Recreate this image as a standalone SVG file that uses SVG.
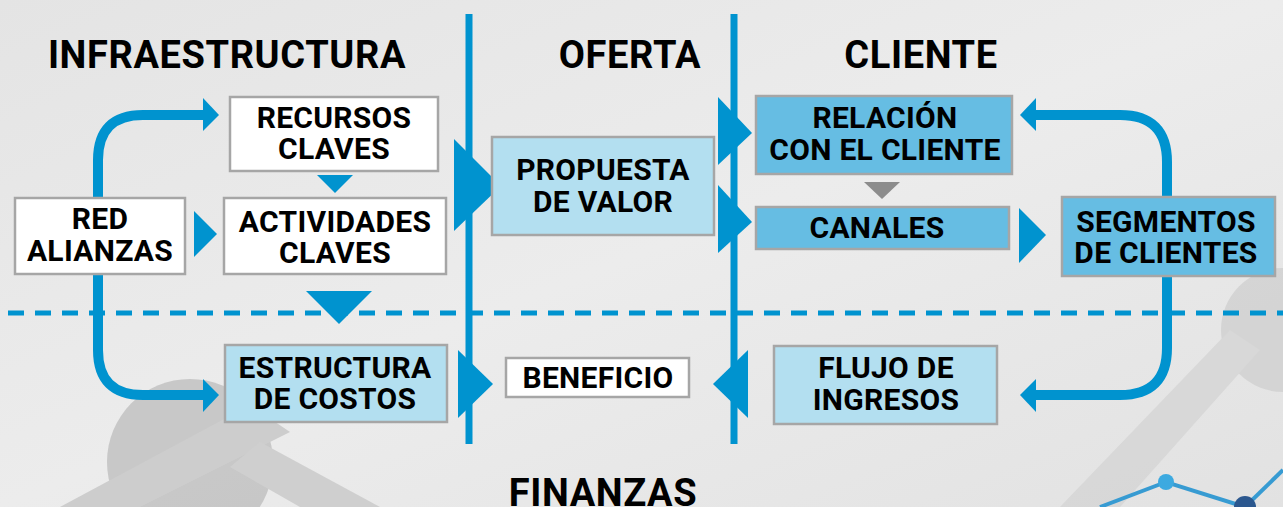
<svg xmlns="http://www.w3.org/2000/svg" width="1283" height="507" viewBox="0 0 1283 507">
<defs>
<linearGradient id="bg" x1="0" y1="0" x2="1" y2="1">
<stop offset="0" stop-color="#e4e4e4"/>
<stop offset="0.5" stop-color="#ececec"/>
<stop offset="1" stop-color="#e2e2e2"/>
</linearGradient>
<style>
.t{font-family:Roboto,"Liberation Sans",sans-serif;font-weight:bold;fill:#000;text-anchor:middle}
.h{font-size:38px;letter-spacing:0.6px}
.b{font-size:30px;letter-spacing:0.3px}
.box{stroke:#a6a6a6;stroke-width:2.5}
.w{fill:#ffffff}
.lb{fill:#b3dff0}
.mb{fill:#66bde3}
.ar{fill:#0093cf}
.ln{fill:none;stroke:#0093cf}
</style>
</defs>
<rect x="0" y="0" width="1283" height="507" fill="url(#bg)"/>
<g id="decor" opacity="0.85">
<circle cx="190" cy="462" r="83" fill="#c2c2c2"/>
<path d="M60 507 L250 405 L290 432 L140 507 Z" fill="#c8c8c8"/>
<path d="M260 442 L380 507 L300 507 L230 467 Z" fill="#cbcbcb"/>
<circle cx="1283" cy="330" r="62" fill="#d2d2d2"/>
<path d="M1230 330 L1260 350 L1120 507 L1060 507 Z" fill="#d6d6d6"/>
<path d="M1100 507 L1166 482 L1245 507" fill="none" stroke="#1a8fd0" stroke-width="4"/>
<path d="M1245 507 L1283 470" fill="none" stroke="#1a8fd0" stroke-width="4"/>
<circle cx="1166" cy="482" r="8" fill="#1fa0e0"/>
<circle cx="1245" cy="507" r="11" fill="#0c3f80"/>
</g>
<g id="connectors">
<line x1="8" y1="313" x2="1283" y2="313" stroke="#0093cf" stroke-width="5" stroke-dasharray="16 11"/>
<line x1="469" y1="14" x2="469" y2="444" stroke="#0093cf" stroke-width="7"/>
<line x1="734" y1="14" x2="734" y2="444" stroke="#0093cf" stroke-width="7"/>
<path class="ln" stroke-width="10" d="M98 200 L98 160 Q98 115 143 115 L205 115"/>
<polygon class="ar" points="203,98 219,115 203,131"/>
<path class="ln" stroke-width="10" d="M98 270 L98 350 Q98 395 143 395 L205 395"/>
<polygon class="ar" points="203,379 219,395 203,412"/>
<path class="ln" stroke-width="10" d="M1167 200 L1167 162 Q1167 115 1120 115 L1033 115"/>
<polygon class="ar" points="1036,98 1020,115 1036,131"/>
<path class="ln" stroke-width="10" d="M1167 270 L1167 348 Q1167 395 1120 395 L1033 395"/>
<polygon class="ar" points="1036,379 1020,395 1036,412"/>
<polygon class="ar" points="317,175 353,175 335,193"/>
<polygon class="ar" points="306,291 372,291 339,324"/>
<polygon class="ar" points="194,211 217,234 194,257"/>
<polygon class="ar" points="454,139 501,186 454,231"/>
<polygon class="ar" points="718,97 752,133 718,165"/>
<polygon class="ar" points="718,185 752,222 718,253"/>
<polygon class="ar" points="458,350 493,384 458,418"/>
<polygon class="ar" points="748,350 713,384 748,418"/>
<polygon points="864,182 900,182 882,199" fill="#8c8c8c"/>
<polygon class="ar" points="1019,208 1046,235 1019,263"/>
</g>
<g id="titles">
<text class="t h" x="227" y="68">INFRAESTRUCTURA</text>
<text class="t h" x="630" y="68">OFERTA</text>
<text class="t h" x="921" y="68">CLIENTE</text>
<text class="t h" x="603" y="506">FINANZAS</text>
</g>
<g id="recursos">
<rect class="box w" x="230" y="97" width="208" height="74"/>
<text class="t b" x="334" y="128">RECURSOS</text>
<text class="t b" x="334" y="159">CLAVES</text>
</g>
<g id="actividades">
<rect class="box w" x="224" y="198" width="222" height="76"/>
<text class="t b" x="335" y="232">ACTIVIDADES</text>
<text class="t b" x="335" y="263">CLAVES</text>
</g>
<g id="red">
<rect class="box w" x="15" y="198" width="170" height="76"/>
<text class="t b" x="100" y="229">RED</text>
<text class="t b" x="100" y="261">ALIANZAS</text>
</g>
<g id="estructura">
<rect class="box lb" x="225" y="345" width="222" height="77"/>
<text class="t b" x="335" y="378">ESTRUCTURA</text>
<text class="t b" x="335" y="409">DE COSTOS</text>
</g>
<g id="propuesta">
<rect class="box lb" x="492" y="137" width="222" height="98"/>
<text class="t b" x="603" y="180">PROPUESTA</text>
<text class="t b" x="603" y="212">DE VALOR</text>
</g>
<g id="beneficio">
<rect class="box w" x="506" y="358" width="183" height="39"/>
<text class="t b" x="598" y="388">BENEFICIO</text>
</g>
<g id="relacion">
<rect class="box mb" x="756" y="96" width="256" height="78"/>
<text class="t b" x="885" y="128">RELACIÓN</text>
<text class="t b" x="885" y="160">CON EL CLIENTE</text>
</g>
<g id="canales">
<rect class="box mb" x="756" y="207" width="253" height="42"/>
<text class="t b" x="877" y="238">CANALES</text>
</g>
<g id="segmentos">
<rect class="box mb" x="1062" y="197" width="213" height="79"/>
<text class="t b" x="1166" y="232">SEGMENTOS</text>
<text class="t b" x="1166" y="263">DE CLIENTES</text>
</g>
<g id="flujo">
<rect class="box lb" x="774" y="346" width="223" height="78"/>
<text class="t b" x="886" y="378">FLUJO DE</text>
<text class="t b" x="886" y="410">INGRESOS</text>
</g>
</svg>
